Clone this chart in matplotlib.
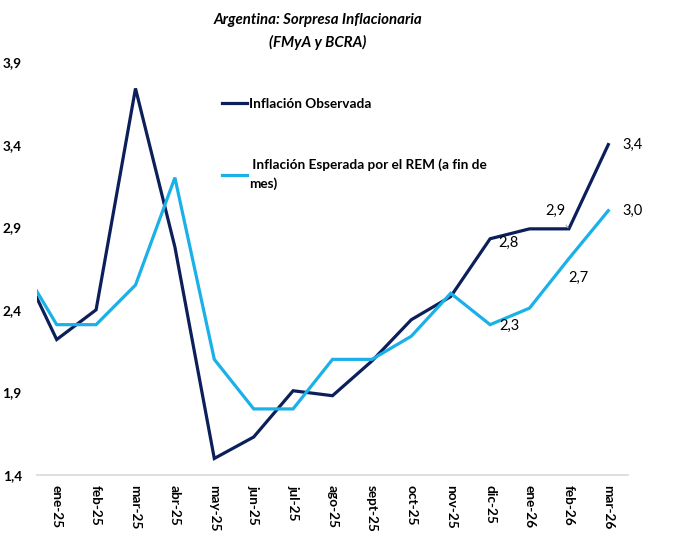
import matplotlib
matplotlib.use("Agg")
import matplotlib.pyplot as plt
from matplotlib.lines import Line2D

plt.rcParams["font.family"] = ["Lato", "DejaVu Sans"]

# dic-24 sits just off the left edge (clipped), as in the original
MONTHS = ["dic-24", "ene-25", "feb-25", "mar-25", "abr-25", "may-25", "jun-25",
          "jul-25", "ago-25", "sept-25", "oct-25", "nov-25", "dic-25",
          "ene-26", "feb-26", "mar-26"]
OBSERVED = [2.72, 2.22, 2.40, 3.74, 2.78, 1.50, 1.63, 1.91, 1.88, 2.09,
            2.34, 2.48, 2.83, 2.89, 2.89, 3.40]
EXPECTED = [2.71, 2.31, 2.31, 2.55, 3.20, 2.10, 1.80, 1.80, 2.10, 2.10,
            2.24, 2.50, 2.31, 2.41, 2.71, 3.00]
Y_TICKS = [1.4, 1.9, 2.4, 2.9, 3.4, 3.9]

NAVY = "#0c1f5a"
LIGHT = "#1ab0e8"

x = list(range(-1, len(MONTHS) - 1))

fig = plt.figure(figsize=(6.8, 5.36), dpi=100)
ax = fig.add_axes([37 / 680, 1 - 475 / 536, 591 / 680, 413 / 536])

ax.plot(x, OBSERVED, color=NAVY, lw=2.3, solid_joinstyle="miter")
ax.plot(x, EXPECTED, color=LIGHT, lw=2.3, solid_joinstyle="miter")

ax.set_xlim(-0.5, 14.5)
ax.set_ylim(1.4, 3.9)
ax.set_yticks(Y_TICKS)
ax.set_yticklabels([f"{v:.1f}".replace(".", ",") for v in Y_TICKS],
                   fontsize=9.8, fontweight="bold")
ax.set_xticks(x[1:])
ax.set_xticklabels(MONTHS[1:], rotation=-90, fontsize=9.8, fontweight="bold",
                   va="top", ha="center")
ax.tick_params(axis="y", length=0, pad=11)
ax.tick_params(axis="x", length=0, pad=7)
for side in ("left", "right", "top"):
    ax.spines[side].set_visible(False)
ax.spines["bottom"].set_color("#d9d9d9")
ax.spines["bottom"].set_linewidth(1.2)


def lbl(v):
    return f"{v:.1f}".replace(".", ",")


fs = 10.5
ax.annotate(lbl(OBSERVED[-1]), (x[-1], OBSERVED[-1]), xytext=(10, 0),
            textcoords="offset points", va="center", ha="left", fontsize=fs)
ax.annotate(lbl(EXPECTED[-1]), (x[-1], EXPECTED[-1]), xytext=(10, 0),
            textcoords="offset points", va="center", ha="left", fontsize=fs)
ax.annotate(lbl(OBSERVED[-2]), (x[-2], OBSERVED[-2]), xytext=(-10, 13),
            textcoords="offset points", va="center", ha="center", fontsize=fs,
            arrowprops=dict(arrowstyle="-", color="#a6a6a6", lw=0.8,
                            shrinkA=4, shrinkB=1))
ax.annotate(lbl(OBSERVED[12]), (x[12], OBSERVED[12]), xytext=(13, -3),
            textcoords="offset points", va="center", ha="center", fontsize=fs)
ax.annotate(lbl(EXPECTED[12]), (x[12], EXPECTED[12]), xytext=(14, -1),
            textcoords="offset points", va="center", ha="center", fontsize=fs)
ax.annotate(lbl(EXPECTED[-2]), (x[-2], EXPECTED[-2]), xytext=(7, -14),
            textcoords="offset points", va="center", ha="center", fontsize=fs)

# legend drawn inside the plot area
handles = [Line2D([], [], color=NAVY, lw=2.3),
           Line2D([], [], color=LIGHT, lw=2.3)]
leg = ax.legend(handles, ["Inflación Observada",
                          " Inflación Esperada por el REM (a fin de\nmes)"],
                loc="upper left", bbox_to_anchor=(173 / 591, 0.943),
                frameon=False, handlelength=1.8, handletextpad=0.15,
                labelspacing=3.6, prop={"weight": "bold", "size": 9.8})
for t in leg.get_texts():
    t.set_linespacing(1.55)

fig.text(318 / 680, 1 - 20 / 536, "Argentina: Sorpresa Inflacionaria",
         ha="center", va="center", fontsize=10.8, fontweight="bold",
         fontstyle="italic")
fig.text(318 / 680, 1 - 42 / 536, "(FMyA y BCRA)",
         ha="center", va="center", fontsize=10.8, fontweight="bold",
         fontstyle="italic")

fig.savefig("out.png", dpi=100)
